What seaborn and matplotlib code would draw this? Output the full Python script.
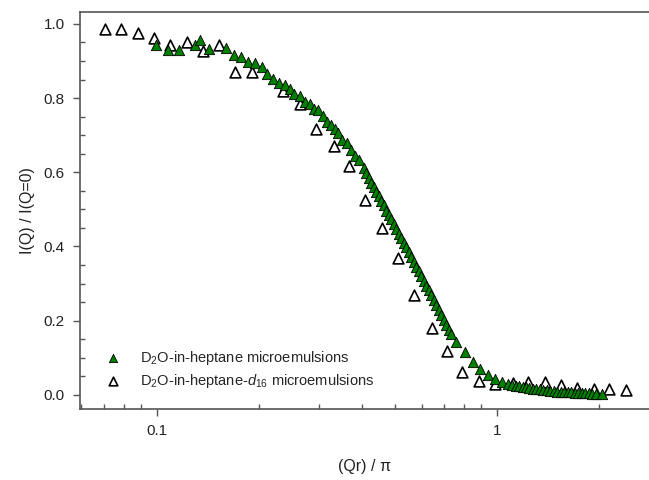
import numpy as np
import pandas as pd
import matplotlib
matplotlib.use("Agg")
import matplotlib.pyplot as plt
import seaborn as sns
from matplotlib.ticker import LogLocator, MultipleLocator, FixedLocator, NullFormatter

# data: (Qr)/pi and normalised intensity
# D2O-in-heptane microemulsions (filled green)
h_x = [0.0991, 0.1080, 0.1163, 0.1294, 0.1342, 0.1427, 0.1601, 0.1684, 0.1772, 0.1858,
       0.1942, 0.2032, 0.2111, 0.2198, 0.2289, 0.2379, 0.2461, 0.2537, 0.2633, 0.2724,
       0.2818, 0.2896, 0.2981, 0.3072, 0.3155, 0.3243, 0.3339, 0.3414, 0.3513, 0.3614,
       0.3721, 0.3823, 0.3936, 0.4063, 0.4132, 0.4202, 0.4274, 0.4347, 0.4421, 0.4497,
       0.4574, 0.4652, 0.4732, 0.4813, 0.4895, 0.4979, 0.5064, 0.5151, 0.5239, 0.5328,
       0.5419, 0.5512, 0.5606, 0.5702, 0.5799, 0.5898, 0.5998, 0.6101, 0.6205, 0.6310,
       0.6418, 0.6528, 0.6639, 0.6753, 0.6868, 0.6985, 0.7104, 0.7225, 0.7348, 0.7602,
       0.8050, 0.8500, 0.8942, 0.9428, 0.9900, 1.038, 1.081, 1.107, 1.134, 1.161,
       1.189, 1.217, 1.246, 1.276, 1.307, 1.338, 1.370, 1.403, 1.437, 1.471,
       1.506, 1.542, 1.579, 1.617, 1.656, 1.696, 1.737, 1.778, 1.821, 1.865,
       1.909, 1.955, 2.030]
h_y = [0.943, 0.930, 0.929, 0.943, 0.957, 0.931, 0.935, 0.915, 0.911, 0.898,
       0.894, 0.883, 0.864, 0.852, 0.841, 0.836, 0.824, 0.810, 0.806, 0.790,
       0.783, 0.771, 0.767, 0.751, 0.736, 0.728, 0.717, 0.706, 0.687, 0.678,
       0.660, 0.644, 0.633, 0.612, 0.598, 0.585, 0.571, 0.559, 0.547, 0.535,
       0.523, 0.511, 0.497, 0.485, 0.473, 0.461, 0.447, 0.435, 0.423, 0.410,
       0.398, 0.384, 0.372, 0.358, 0.346, 0.333, 0.321, 0.307, 0.294, 0.282,
       0.268, 0.255, 0.243, 0.229, 0.216, 0.202, 0.189, 0.175, 0.163, 0.143,
       0.115, 0.090, 0.070, 0.053, 0.042, 0.035, 0.030, 0.027, 0.024, 0.023,
       0.022, 0.020, 0.018, 0.016, 0.015, 0.015, 0.013, 0.012, 0.011, 0.011,
       0.009, 0.008, 0.008, 0.007, 0.007, 0.005, 0.005, 0.004, 0.004, 0.004,
       0.003, 0.003, 0.003]

# D2O-in-heptane-d16 microemulsions (open)
d_x = [0.0703, 0.0782, 0.0881, 0.0980, 0.1092, 0.1223, 0.1363, 0.1525, 0.1696, 0.1899,
       0.2351, 0.2633, 0.2936, 0.3316, 0.3678, 0.4100, 0.4580, 0.5126, 0.5702, 0.6427,
       0.7114, 0.7915, 0.8869, 0.9865, 1.112, 1.236, 1.384, 1.542, 1.723, 1.929,
       2.135, 2.391]
d_y = [0.986, 0.986, 0.975, 0.963, 0.942, 0.951, 0.928, 0.942, 0.869, 0.869,
       0.820, 0.784, 0.716, 0.672, 0.617, 0.526, 0.449, 0.368, 0.270, 0.180,
       0.119, 0.063, 0.038, 0.029, 0.032, 0.035, 0.034, 0.027, 0.018, 0.016,
       0.015, 0.012]

label_h = "D$_2$O-in-heptane microemulsions"
label_d = "D$_2$O-in-heptane-$d_{16}$ microemulsions"

sns.set_style("ticks")
plt.rcParams['font.family'] = ['Liberation Sans', 'DejaVu Sans']
plt.rcParams['mathtext.fontset'] = 'custom'
plt.rcParams['mathtext.rm'] = 'Liberation Sans'
plt.rcParams['mathtext.it'] = 'Liberation Sans:italic'

W, H = 649, 480
fig = plt.figure(figsize=(W / 100, H / 100), dpi=100)
# axes box: left spine at x=80, top at y=12, bottom at y=409, runs off the right edge
ax = fig.add_axes([80 / W, (H - 409) / H, (W - 80) / W, (409 - 12) / H])

sns.scatterplot(x=d_x, y=d_y, marker='^', s=60, color='white', edgecolor='black',
                linewidth=1.2, label=label_d, ax=ax, zorder=3)
sns.scatterplot(x=h_x, y=h_y, marker='^', s=55, color='#008000', edgecolor='black',
                linewidth=0.6, label=label_h, ax=ax, zorder=4)

ax.set_xscale('log')
ax.set_xlim(0.0594, 2.80)
ax.set_ylim(-0.038, 1.032)

ax.xaxis.set_major_locator(FixedLocator([0.1, 1]))
ax.set_xticklabels(['0.1', '1'])
ax.xaxis.set_minor_locator(LogLocator(base=10, subs=np.arange(2, 10)))
ax.xaxis.set_minor_formatter(NullFormatter())
ax.yaxis.set_major_locator(MultipleLocator(0.2))
ax.yaxis.set_minor_locator(MultipleLocator(0.05))
ax.yaxis.set_major_formatter(matplotlib.ticker.FormatStrFormatter('%.1f'))

spine_col = '#555555'
for side in ['left', 'bottom', 'top']:
    ax.spines[side].set_color(spine_col)
    ax.spines[side].set_linewidth(1.2)
ax.spines['right'].set_visible(False)
ax.tick_params(which='major', direction='out', length=5, width=1, color=spine_col,
               labelsize=11, labelcolor='#222222', pad=6)
ax.tick_params(which='minor', direction='in', length=3.5, width=1, color=spine_col)
ax.tick_params(top=False, right=False, which='both')

ax.set_xlabel("(Qr) / π", fontsize=11.5, color='#222222', labelpad=15)
ax.set_ylabel("I(Q) / I(Q=0)", fontsize=11.5, color='#222222', labelpad=6)

handles, labels = ax.get_legend_handles_labels()
ax.legend(handles[::-1], labels[::-1], loc='lower left', bbox_to_anchor=(0.01, 0.015),
          frameon=False, fontsize=10.5, handletextpad=0.8, markerscale=0.8,
          labelspacing=0.35)

fig.savefig("out.png", dpi=100)
